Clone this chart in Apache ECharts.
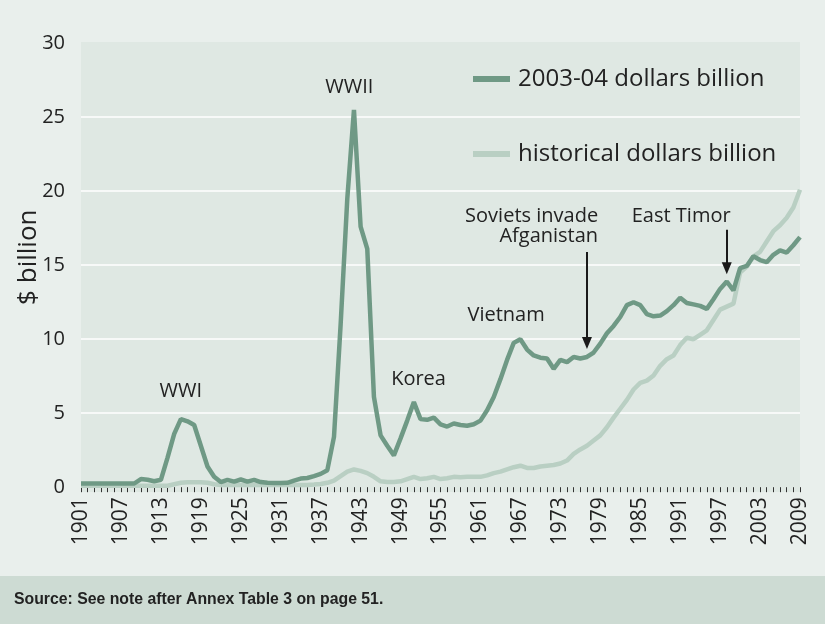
<!DOCTYPE html>
<html>
<head>
<meta charset="utf-8">
<style>
  html, body { margin: 0; padding: 0; background: #e9efec; }
  #chart { width: 825px; height: 624px; }
</style>
<script src="https://cdn.jsdelivr.net/npm/echarts@6/dist/echarts.min.js"></script>
</head>
<body>
<div id="chart"></div>
<script>
// Defence spending, $ billion, 1901 to 2009
const years = [];
for (let y = 1901; y <= 2009; y++) years.push(String(y));

// Constant 2003-04 dollars
const realDollars = [
  0.25, 0.25, 0.25, 0.25, 0.25, 0.25, 0.25, 0.25, 0.25, 0.55, // 1901-1910
  0.5, 0.4, 0.5, 2.0, 3.6, 4.6, 4.45, 4.2, 2.8, 1.4,          // 1911-1920
  0.7, 0.35, 0.5, 0.38, 0.52, 0.38, 0.5, 0.35, 0.3, 0.28,     // 1921-1930
  0.28, 0.3, 0.45, 0.58, 0.62, 0.75, 0.9, 1.15, 3.4, 11.0,    // 1931-1940
  19.5, 25.5, 17.6, 16.1, 6.1, 3.5, 2.8, 2.15, 3.3, 4.5,      // 1941-1950
  5.75, 4.6, 4.55, 4.7, 4.25, 4.1, 4.3, 4.2, 4.15, 4.25,      // 1951-1960
  4.5, 5.2, 6.1, 7.3, 8.6, 9.75, 10.0, 9.3, 8.9, 8.75,        // 1961-1970
  8.7, 8.0, 8.6, 8.45, 8.8, 8.7, 8.8, 9.1, 9.7, 10.4,         // 1971-1980
  10.9, 11.5, 12.3, 12.5, 12.3, 11.7, 11.55, 11.6, 11.9, 12.3,// 1981-1990
  12.8, 12.45, 12.35, 12.25, 12.05, 12.7, 13.4, 13.9, 13.3, 14.8, // 1991-2000
  14.95, 15.6, 15.35, 15.2, 15.7, 16.0, 15.85, 16.35, 16.9    // 2001-2009
];

// Historical (current) dollars
const historicalDollars = [
  0.1, 0.1, 0.1, 0.1, 0.1, 0.1, 0.1, 0.1, 0.1, 0.1,           // 1901-1910
  0.1, 0.1, 0.1, 0.1, 0.2, 0.3, 0.33, 0.33, 0.33, 0.3,        // 1911-1920
  0.2, 0.15, 0.15, 0.15, 0.15, 0.15, 0.15, 0.15, 0.15, 0.15,  // 1921-1930
  0.15, 0.15, 0.15, 0.15, 0.15, 0.18, 0.22, 0.3, 0.45, 0.75,  // 1931-1940
  1.05, 1.2, 1.1, 0.95, 0.7, 0.4, 0.35, 0.35, 0.4, 0.55,      // 1941-1950
  0.7, 0.55, 0.6, 0.7, 0.55, 0.6, 0.7, 0.68, 0.7, 0.7,        // 1951-1960
  0.7, 0.8, 0.95, 1.05, 1.2, 1.35, 1.45, 1.3, 1.3, 1.4,       // 1961-1970
  1.45, 1.5, 1.6, 1.8, 2.25, 2.55, 2.8, 3.15, 3.5, 4.05,      // 1971-1980
  4.7, 5.3, 5.9, 6.6, 7.05, 7.2, 7.55, 8.2, 8.65, 8.9,        // 1981-1990
  9.6, 10.1, 10.0, 10.3, 10.6, 11.3, 12.0, 12.2, 12.4, 14.5,  // 1991-2000
  14.9, 15.6, 15.9, 16.6, 17.3, 17.7, 18.2, 18.9, 20.1        // 2001-2009
];

const seriesNames = ['2003-04 dollars billion', 'historical dollars billion'];

// Event notes placed in data space: [text, year, value]
const notes = [
  ['WWI', '1916', 6.5],
  ['WWII', '1941', 27.0],
  ['Korea', '1952', 7.3],
  ['Vietnam', '1965', 11.64],
  ['East Timor', '1991', 18.28]
];
const rightNotes = [
  ['Soviets invade', '1978', 18.28],
  ['Afganistan', '1978', 16.93]
];
// Arrows: [year, from value, to value]
const arrows = [
  ['1977', 15.9, 9.75],
  ['1998', 17.4, 14.8]
];

const DARK = '#6f9985';
const LIGHT = '#b9cfc3';
const INK = '#222222';
const FONT = '"Open Sans", "Noto Sans", sans-serif';

const chart = echarts.init(document.getElementById('chart'), null, { renderer: 'canvas' });

const noteOffsets = { 'WWI': [0, 0], 'WWII': [2, 0], 'Korea': [-2, 0], 'Vietnam': [-1, 0], 'East Timor': [1, 0] };

chart.setOption({
  animation: false,
  backgroundColor: '#e9efec',
  textStyle: { fontFamily: FONT },
  grid: { left: 81, right: 25, top: 43.2, bottom: 136.8, containLabel: false },
  graphic: {
    elements: [
      { type: 'rect', z: -100, shape: { x: 81, y: 42, width: 719, height: 450 }, style: { fill: '#dfe8e3' }, silent: true },
      { type: 'rect', z: -100, shape: { x: 0, y: 576, width: 825, height: 48 }, style: { fill: '#cddbd3' }, silent: true },
      { type: 'text', left: 14, top: 592, silent: true,
        style: { text: 'Source: See note after Annex Table 3 on page 51.', fill: INK,
                 font: 'bold 15.8px "Liberation Sans", Arial, sans-serif' } }
    ]
  },
  legend: {
    data: seriesNames,
    orient: 'vertical',
    left: 468,
    top: 59,
    itemWidth: 37,
    itemHeight: 6,
    itemGap: 45,
    icon: 'rect',
    selectedMode: false,
    textStyle: { fontSize: 24, color: INK, fontFamily: FONT, lineHeight: 30, padding: [0, 0, 0, 3] }
  },
  xAxis: {
    type: 'category',
    data: years,
    boundaryGap: false,
    axisLine: { show: false },
    axisTick: { show: true, interval: 0, length: 5, lineStyle: { color: '#333', width: 1 } },
    axisLabel: { interval: 5, rotate: 90, margin: 10, fontSize: 21, color: INK, fontFamily: FONT },
    splitLine: { show: false }
  },
  yAxis: {
    type: 'value',
    min: 0,
    max: 30,
    interval: 5,
    name: '$ billion',
    nameLocation: 'middle',
    nameGap: 39,
    nameRotate: 90,
    nameMoveOverlap: false,
    nameTextStyle: { fontSize: 26, color: INK, fontFamily: FONT, padding: [0, 0, 0, 16] },
    axisLine: { show: false },
    axisTick: { show: false },
    axisLabel: { fontSize: 20, color: INK, margin: 16, fontFamily: FONT },
    splitLine: {
      show: true,
      lineStyle: { color: ['rgba(0,0,0,0)', '#ffffff', '#ffffff', '#ffffff', '#ffffff', '#ffffff', 'rgba(0,0,0,0)'], width: 1.6 }
    }
  },
  series: [
    {
      name: seriesNames[1],
      type: 'line',
      data: historicalDollars,
      showSymbol: false,
      symbol: 'none',
      color: LIGHT,
      lineStyle: { color: LIGHT, width: 4.5 },
      z: 2
    },
    {
      name: seriesNames[0],
      type: 'line',
      data: realDollars,
      showSymbol: false,
      symbol: 'none',
      color: DARK,
      lineStyle: { color: DARK, width: 4.5 },
      z: 3,
      markPoint: {
        symbol: 'circle',
        symbolSize: 0,
        silent: true,
        data: notes.map(n => ({
          name: n[0], coord: [n[1], n[2]],
          label: { show: true, position: 'inside', offset: noteOffsets[n[0]], formatter: n[0],
                   fontSize: 20, color: INK, fontFamily: FONT }
        })).concat(rightNotes.map(n => ({
          name: n[0], coord: [n[1], n[2]],
          label: { show: true, position: 'inside', align: 'right', offset: [4.5, 0], formatter: n[0],
                   fontSize: 20, color: INK, fontFamily: FONT }
        })))
      },
      markLine: {
        silent: true,
        symbol: ['none', 'triangle'],
        symbolSize: [10, 12],
        label: { show: false },
        lineStyle: { color: '#1a1a1a', width: 2, type: 'solid' },
        itemStyle: { color: '#1a1a1a' },
        emphasis: { disabled: true },
        data: arrows.map(a => [{ coord: [a[0], a[1]] }, { coord: [a[0], a[2]] }])
      }
    }
  ]
});
</script>
</body>
</html>
